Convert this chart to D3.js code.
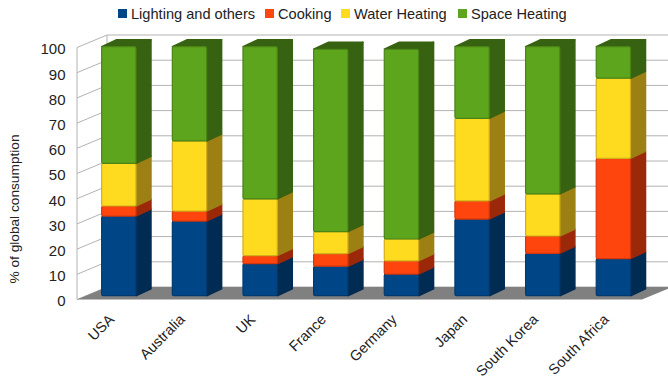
<!DOCTYPE html>
<html>
<head>
<meta charset="utf-8">
<style>
  html, body { margin: 0; padding: 0; background: #fff; }
  svg { display: block; }
  text { font-family: "Liberation Sans", sans-serif; fill: #222; }
</style>
<script src="https://cdn.jsdelivr.net/npm/d3@7"></script>
</head>
<body>
<div id="container"></div>
<script>
let w = 668;
let h = 381;

let countries = ['USA', 'Australia', 'UK', 'France', 'Germany', 'Japan', 'South Korea', 'South Africa'];
let seriesNames = ['Lighting and others', 'Cooking', 'Water Heating', 'Space Heating'];

let lighting = [31.6, 29.6, 12.7, 11.7, 8.6, 30.4, 16.8, 14.7];
let cooking = [4, 4, 3.2, 5, 5.2, 7.2, 6.9, 39.8];
let waterHeating = [16.9, 27.8, 22.5, 8.7, 8.7, 32.8, 16.7, 31.8];
let spaceHeating = [46.3, 37.4, 60.4, 72.4, 75.3, 28.4, 58.4, 12.5];

let yTicks = [0, 10, 20, 30, 40, 50, 60, 70, 80, 90, 100];

let frontColors = ['#004586', '#ff450e', '#ffdb20', '#5ca51c'];
let edgeColors = ['#003a70', '#d5370c', '#d2ae1a', '#4b8317'];
let sideColors = ['#002b52', '#9c280a', '#9c8014', '#376212'];

// depth of the floor and of one bar
let floorDx = 30;
let floorDy = 12.5;
let barDx = 15;
let barDy = 7;

let viz = d3.select('#container')
  .append('svg')
    .attr('width', w)
    .attr('height', h)
  ;

let xScale = d3.scaleBand()
  .domain(countries)
  .range([83.5, 648.7])
  .paddingInner(0.5145)
  .paddingOuter(0.2573);

// wall scale sits on the front edge of the floor, bars sit a little further in
let yScale = d3.scaleLinear().domain([0, 100]).range([299.5, 47.5]);
let barScale = d3.scaleLinear().domain([0, 100]).range([295.7, 43.7]);

let frontLeft = 77;
let frontRight = 642;

// back wall and left wall gridlines
let grid = viz.append('g').attr('class', 'grid');
grid.selectAll('.back')
  .data(yTicks)
  .enter().append('line')
    .attr('x1', frontLeft + floorDx)
    .attr('x2', w)
    .attr('y1', d => yScale(d) - floorDy)
    .attr('y2', d => yScale(d) - floorDy)
    .attr('stroke', '#b3b3b3')
    .attr('stroke-width', 1);
grid.selectAll('.side')
  .data(yTicks)
  .enter().append('line')
    .attr('x1', frontLeft)
    .attr('x2', frontLeft + floorDx)
    .attr('y1', d => yScale(d))
    .attr('y2', d => yScale(d) - floorDy)
    .attr('stroke', '#b3b3b3')
    .attr('stroke-width', 1);
grid.selectAll('.vert')
  .data([frontLeft, frontLeft + floorDx])
  .enter().append('line')
    .attr('x1', d => d)
    .attr('x2', d => d)
    .attr('y1', (d, i) => yScale(100) - (i ? floorDy : 0))
    .attr('y2', (d, i) => yScale(0) - (i ? floorDy : 0))
    .attr('stroke', '#b3b3b3')
    .attr('stroke-width', 1);

// grey floor
viz.append('polygon')
  .attr('points', [
    [frontLeft, yScale(0)],
    [frontLeft + floorDx, yScale(0) - floorDy],
    [frontRight + floorDx, yScale(0) - floorDy],
    [frontRight, yScale(0)]
  ].join(' '))
  .attr('fill', '#808080');

// stack the four series per country
let table = countries.map(function(c, i){
  return {
    country: c,
    'Lighting and others': lighting[i],
    'Cooking': cooking[i],
    'Water Heating': waterHeating[i],
    'Space Heating': spaceHeating[i]
  };
});
let stacked = d3.stack().keys(seriesNames)(table);

function sidePath(x, y0, y1){
  return 'M' + x + ',' + y1 +
    'L' + (x + barDx) + ',' + (y1 - barDy) +
    'L' + (x + barDx) + ',' + (y0 - barDy) +
    'L' + x + ',' + y0 + 'Z';
}
function topPath(x, bw, y){
  return 'M' + x + ',' + y +
    'L' + (x + barDx) + ',' + (y - barDy) +
    'L' + (x + bw + barDx) + ',' + (y - barDy) +
    'L' + (x + bw) + ',' + y + 'Z';
}

let bars = viz.append('g').attr('class', 'bars');
stacked.forEach(function(layer, s){
  let g = bars.append('g');
  let bw = xScale.bandwidth();

  g.selectAll('.side')
    .data(layer)
    .enter().append('path')
      .attr('d', d => sidePath(xScale(d.data.country) + bw, barScale(d[0]), barScale(d[1])))
      .attr('fill', sideColors[s])
      .attr('stroke', sideColors[s])
      .attr('stroke-width', 1.5)
      .attr('stroke-linejoin', 'round');

  // only the last series shows its top face
  if(s == stacked.length - 1){
    g.selectAll('.top')
      .data(layer)
      .enter().append('path')
        .attr('d', d => topPath(xScale(d.data.country), bw, barScale(d[1])))
        .attr('fill', sideColors[s])
        .attr('stroke', sideColors[s])
        .attr('stroke-width', 1.5)
        .attr('stroke-linejoin', 'round');
  }

  g.selectAll('.front')
    .data(layer)
    .enter().append('rect')
      .attr('x', d => xScale(d.data.country))
      .attr('y', d => barScale(d[1]))
      .attr('width', bw)
      .attr('height', d => barScale(d[0]) - barScale(d[1]))
      .attr('rx', 1.5)
      .attr('fill', frontColors[s])
      .attr('stroke', edgeColors[s])
      .attr('stroke-width', 1.2);
});

// y axis, labels only
let yAxis = d3.axisLeft(yScale).tickValues(yTicks).tickSize(0).tickPadding(0);
let yAxisGroup = viz.append('g').attr('class', 'yaxis')
  .attr('transform', 'translate(65.5, 1.5)')
  .call(yAxis);
yAxisGroup.select('.domain').remove();
yAxisGroup.selectAll('text')
  .style('font-size', '15px')
  .style('font-family', '"Liberation Sans", sans-serif');

// x labels rotated, each ending just under its bar
viz.selectAll('.xlabel')
  .data(countries)
  .enter().append('text')
    .attr('class', 'xlabel')
    .attr('transform', d => 'translate(' + (xScale(d) + 6) + ', 313) rotate(-45)')
    .attr('text-anchor', 'end')
    .attr('dominant-baseline', 'hanging')
    .style('font-size', '14.5px')
    .text(d => d);

// y title
viz.append('text')
  .attr('transform', 'translate(18.5, 209) rotate(-90)')
  .attr('text-anchor', 'middle')
  .style('font-size', '13.7px')
  .text('% of global consumption');

// legend
let legendX = [118, 265, 341, 458];
let legend = viz.selectAll('.legend')
  .data(seriesNames)
  .enter().append('g')
    .attr('class', 'legend')
    .attr('transform', (d, i) => 'translate(' + legendX[i] + ', 9)');
legend.append('rect')
  .attr('width', 9)
  .attr('height', 9)
  .attr('fill', (d, i) => frontColors[i]);
legend.append('text')
  .attr('x', 13)
  .attr('y', 10)
  .style('font-size', '14.6px')
  .text(d => d);
</script>
</body>
</html>
